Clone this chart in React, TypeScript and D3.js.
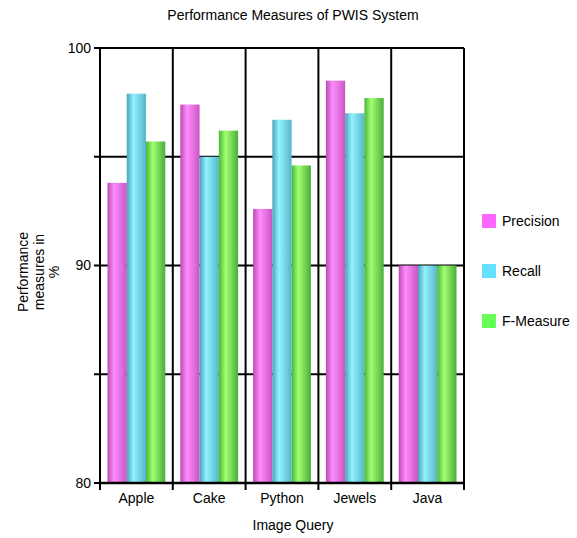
import React from 'react';
import * as d3 from 'd3';

const categories = ['Apple', 'Cake', 'Python', 'Jewels', 'Java'];
const seriesNames = ['Precision', 'Recall', 'F-Measure'];
const precision = [93.8, 97.4, 92.6, 98.5, 90];
const recall = [97.9, 95.0, 96.7, 97.0, 90];
const fMeasure = [95.7, 96.2, 94.6, 97.7, 90];
const yTicks = [80, 90, 100];
const yMinor = [85, 95];

const seriesValues = [precision, recall, fMeasure];
const gradients = [
  ['#bb4ab3', '#ff8cff', '#c956c0'],
  ['#4aa3b8', '#92f3ff', '#56b6c9'],
  ['#48b638', '#a2ff72', '#4aae3a'],
];
const legendColors = ['#ff66ff', '#66e0ff', '#66ff55'];

const W = 577;
const H = 538;
const margin = { top: 48, left: 100, right: 113, bottom: 55 };

const App: React.FC = () => {
  const innerW = W - margin.left - margin.right;
  const innerH = H - margin.top - margin.bottom;

  const x = d3.scaleBand().domain(categories).range([0, innerW]).paddingInner(0).paddingOuter(0);
  const x1 = d3
    .scaleBand()
    .domain(seriesNames)
    .range([0, x.bandwidth()])
    .paddingOuter(0.39)
    .paddingInner(0);
  const y = d3.scaleLinear().domain([80, 100]).range([innerH, 0]);

  return (
    <svg width={W} height={H} style={{ display: 'block', position: 'absolute', left: 0, top: 0 }}
      fontFamily="'Liberation Sans', Arial, sans-serif">
      <defs>
        {gradients.map((g, i) => (
          <linearGradient key={i} id={`grad${i}`} x1="0" x2="1" y1="0" y2="0">
            <stop offset="0%" stopColor={g[0]} />
            <stop offset="35%" stopColor={g[1]} />
            <stop offset="100%" stopColor={g[2]} />
          </linearGradient>
        ))}
      </defs>
      <rect width={W} height={H} fill="#fff" />
      <text x={293} y={20} textAnchor="middle" fontSize={14}>
        Performance Measures of PWIS System
      </text>
      <g transform={`translate(${margin.left},${margin.top})`}>
        {/* horizontal grid */}
        {[...yTicks, ...yMinor].map(t => (
          <line key={t} x1={-6} x2={innerW} y1={y(t)} y2={y(t)} stroke="#000" strokeWidth={2} />
        ))}
        {/* vertical category dividers */}
        {d3.range(categories.length + 1).map(i => (
          <line key={i} x1={i * x.step()} x2={i * x.step()} y1={0} y2={innerH + 7}
            stroke="#000" strokeWidth={2} />
        ))}
        {categories.map((c, ci) => (
          <g key={c} transform={`translate(${x(c)},0)`}>
            {seriesNames.map((s, si) => {
              const v = seriesValues[si][ci];
              return (
                <rect key={s} x={x1(s)} y={y(v)} width={x1.bandwidth()} height={innerH - y(v)}
                  fill={`url(#grad${si})`} />
              );
            })}
            <text x={x.bandwidth() / 2} y={innerH + 20} textAnchor="middle" fontSize={14}>
              {c}
            </text>
          </g>
        ))}
        {yTicks.map(t => (
          <text key={t} x={-9} y={y(t)} dy="0.35em" textAnchor="end" fontSize={14}>
            {t}
          </text>
        ))}
        <line x1={0} x2={innerW} y1={innerH} y2={innerH} stroke="#000" strokeWidth={2.5} />
      </g>
      <text x={293} y={530} textAnchor="middle" fontSize={14}>Image Query</text>
      <g transform="translate(0,272)">
        {['Performance', 'measures in', '%'].map((l, i) => (
          <text key={i} transform={`translate(${28 + i * 15.5},0) rotate(-90)`} textAnchor="middle" fontSize={14}>
            {l}
          </text>
        ))}
      </g>
      {seriesNames.map((s, i) => (
        <g key={s} transform={`translate(482,${214 + i * 50})`}>
          <rect width={14} height={14} fill={legendColors[i]} />
          <text x={20} y={12} fontSize={14}>{s}</text>
        </g>
      ))}
    </svg>
  );
};

export default App;
